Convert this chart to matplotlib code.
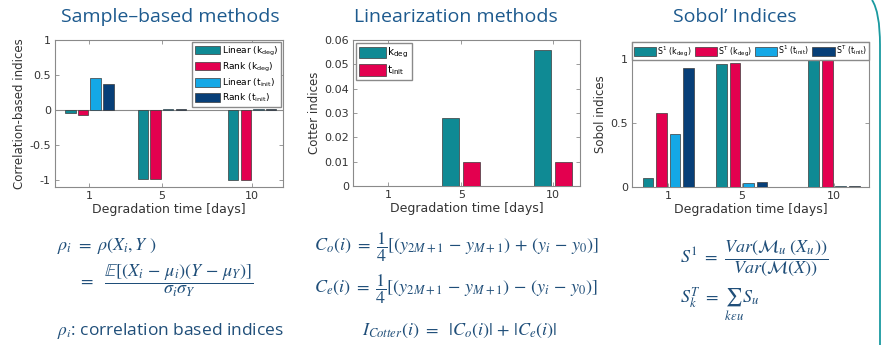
import numpy as np
import matplotlib
matplotlib.use("Agg")
import matplotlib.pyplot as plt
from matplotlib.path import Path
from matplotlib.patches import PathPatch

plt.rcParams['mathtext.fontset'] = 'stix'
plt.rcParams['axes.unicode_minus'] = False
plt.rcParams['font.family'] = ['DejaVu Sans']

# ---- data ----
days = [1, 5, 10]

# sample-based (correlation) indices
lin_kdeg = [-0.045, -0.98, -1.0]
rank_kdeg = [-0.07, -0.98, -1.0]
lin_tinit = [0.46, 0.01, 0.01]
rank_tinit = [0.37, 0.01, 0.01]

# Cotter indices
cot_kdeg = [0.0, 0.028, 0.056]
cot_tinit = [0.0, 0.0097, 0.0098]

# Sobol indices
s1_kdeg = [0.07, 0.96, 0.99]
st_kdeg = [0.58, 0.97, 0.99]
s1_tinit = [0.41, 0.03, 0.005]
st_tinit = [0.93, 0.04, 0.007]

corr_yticks = [-1, -0.5, 0, 0.5, 1]
corr_yticklabels = ["-1", "-0.5", "0", "0.5", "1"]
cot_yticks = [0, 0.01, 0.02, 0.03, 0.04, 0.05, 0.06]
cot_yticklabels = ["0", "0.01", "0.02", "0.03", "0.04", "0.05", "0.06"]
sob_yticks = [0, 0.5, 1]
sob_yticklabels = ["0", "0.5", "1"]

teal = '#0f8a94'
red = '#e3004f'
lblue = '#14a8e6'
navy = '#073f78'
colors4 = [teal, red, lblue, navy]
title_col = '#1d5a8e'
eq_col = '#1f4e79'

W, H = 881, 345
fig = plt.figure(figsize=(W / 100, H / 100), dpi=100)


def box(x0, y0, x1, y1):
    return [x0 / W, 1 - y1 / H, (x1 - x0) / W, (y1 - y0) / H]


def style(ax):
    for s in ax.spines.values():
        s.set_color('#8a8a8a')
        s.set_linewidth(0.8)
    ax.tick_params(direction='in', length=3, width=0.6, color='#8a8a8a',
                   labelsize=8, labelcolor='#333333', top=True, right=True, pad=3)
    ax.set_xticks(days)
    ax.set_xticklabels([str(d) for d in days])
    ax.set_xlabel('Degradation time [days]', fontsize=9, color='#333333', labelpad=1)


def grouped(ax, series, cols, step, width):
    n = len(series)
    x = np.array(days, dtype=float)
    bars = []
    for k, (vals, c) in enumerate(zip(series, cols)):
        off = (k - (n - 1) / 2) * step
        bars.append(ax.bar(x + off, vals, width, color=c, edgecolor='#3a3a3a', linewidth=0.5, zorder=3))
    return bars


# ---- chart 1 ----
ax1 = fig.add_axes(box(55, 40, 283, 187))
b = grouped(ax1, [lin_kdeg, rank_kdeg, lin_tinit, rank_tinit], colors4, 0.7, 0.58)
ax1.axhline(0, color='#8a8a8a', linewidth=0.8, zorder=2)
ax1.set_xlim(-0.9, 11.7)
ax1.set_ylim(-1.1, 1)
ax1.set_yticks(corr_yticks)
ax1.set_yticklabels(corr_yticklabels)
style(ax1)
ax1.set_ylabel('Correlation-based indices', fontsize=8.5, color='#333333', labelpad=2)
ax1.legend(b, [r'Linear (k$_{\mathregular{deg}}$)', r'Rank (k$_{\mathregular{deg}}$)',
               r'Linear (t$_{\mathregular{init}}$)', r'Rank (t$_{\mathregular{init}}$)'],
           loc='upper right', fontsize=6.5, fancybox=False, framealpha=1, edgecolor='#8a8a8a',
           borderaxespad=0.2, handlelength=2.8, handleheight=1.1, labelspacing=0.35,
           handletextpad=0.2, borderpad=0.3)

# ---- chart 2 ----
ax2 = fig.add_axes(box(353, 40, 580, 186))
b = grouped(ax2, [cot_kdeg, cot_tinit], [teal, red], 1.15, 0.93)
ax2.set_xlim(-0.92, 11.5)
ax2.set_ylim(0, 0.06)
ax2.set_yticks(cot_yticks)
ax2.set_yticklabels(cot_yticklabels)
style(ax2)
ax2.set_ylabel('Cotter indices', fontsize=8.5, color='#333333', labelpad=2)
ax2.legend(b, [r'k$_{\mathregular{deg}}$', r't$_{\mathregular{init}}$'],
           loc='upper left', fontsize=7.5, fancybox=False, framealpha=1, edgecolor='#8a8a8a',
           borderaxespad=0.3, handlelength=2.6, handleheight=1.3, labelspacing=0.3,
           handletextpad=0.1, borderpad=0.3)

# ---- chart 3 ----
ax3 = fig.add_axes(box(632, 42, 869, 187))
b = grouped(ax3, [s1_kdeg, st_kdeg, s1_tinit, st_tinit], colors4, 0.73, 0.58)
ax3.set_xlim(-0.96, 11.9)
ax3.set_ylim(0, 1.13)
ax3.set_yticks(sob_yticks)
ax3.set_yticklabels(sob_yticklabels)
style(ax3)
ax3.set_ylabel('Sobol indices', fontsize=8.5, color='#333333', labelpad=2)
ax3.legend(b, [r'S$^{\mathregular{1}}$ (k$_{\mathregular{deg}}$)', r'S$^{\mathregular{T}}$ (k$_{\mathregular{deg}}$)',
               r'S$^{\mathregular{1}}$ (t$_{\mathregular{init}}$)', r'S$^{\mathregular{T}}$ (t$_{\mathregular{init}}$)'],
           loc='upper center', ncol=4, fontsize=5.7, fancybox=False, framealpha=1, edgecolor='#8a8a8a',
           borderaxespad=0.05, handlelength=2.8, handleheight=1.3, columnspacing=0.35,
           handletextpad=0.15, borderpad=0.2)

# ---- titles ----
tfont = dict(fontsize=14, color=title_col, family='Open Sans', ha='center', va='center')
fig.text(170 / W, 1 - 17 / H, 'Sample–based methods', **tfont)
fig.text(456 / W, 1 - 17 / H, 'Linearization methods', **tfont)
fig.text(735 / W, 1 - 17 / H, 'Sobol’ Indices', **tfont)

# ---- formulas ----
ef = dict(color=eq_col, fontsize=13, va='center')
fig.text(57 / W, 1 - 246 / H, r'$\rho_i\ =\ \rho(X_i, Y\ )$', **ef)
fig.text(78 / W, 1 - 281 / H, r'$=\ \ \dfrac{\mathbb{E}[(X_i\,-\,\mu_i)(Y\,-\,\mu_Y)]}{\sigma_i\sigma_Y}$', **ef)
fig.text(57 / W, 1 - 331 / H, r'$\rho_i$: correlation based indices', color=eq_col, fontsize=12.5,
         va='center', family='Open Sans')
fig.text(314 / W, 1 - 247 / H,
         r'$C_o(i)\ =\ \dfrac{1}{4}[(y_{2M+1}\,-\,y_{M+1})\,+\,(y_i\,-\,y_0)]$', **ef)
fig.text(314 / W, 1 - 289 / H,
         r'$C_e(i)\ =\ \dfrac{1}{4}[(y_{2M+1}\,-\,y_{M+1})\,-\,(y_i\,-\,y_0)]$', **ef)
fig.text(362 / W, 1 - 331 / H, r'$I_{Cotter}(i)\ =\ \ |C_o(i)|\,+\,|C_e(i)|$', **ef)
fig.text(680 / W, 1 - 258 / H, r'$S^1\ =\ \dfrac{Var(\mathcal{M}_u\ (X_u))}{Var(\mathcal{M}(X))}$', **ef)
fig.text(680 / W, 1 - 304 / H, r'$S_k^T\ =\ \sum_{k\epsilon u} S_u$', **ef)

# ---- slide border decoration on the right ----
verts = [(872, 0), (880, 12), (880, 45), (880, 345)]
verts = [(vx / W, 1 - vy / H) for vx, vy in verts]
path = Path(verts, [Path.MOVETO, Path.CURVE3, Path.CURVE3, Path.LINETO])
fig.add_artist(PathPatch(path, transform=fig.transFigure, fill=False, edgecolor='#1a9aa0', linewidth=1.3))

fig.savefig('out.png', dpi=100)
